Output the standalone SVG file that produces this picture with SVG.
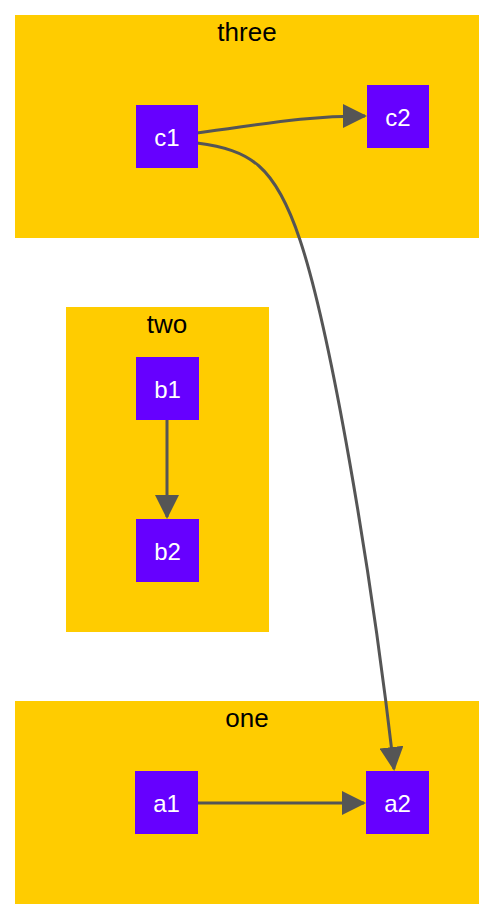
<svg xmlns="http://www.w3.org/2000/svg" width="494" height="920" viewBox="0 0 494 920">
<style>
.cluster{fill:#ffcc00;}
.node rect{fill:#6600ff;}
.node text{fill:#ffffff;font-family:"Liberation Sans",Arial,sans-serif;font-size:24px;text-anchor:middle;}
.clabel{fill:#000000;font-family:"Liberation Sans",Arial,sans-serif;font-size:26px;text-anchor:middle;}
.edge{fill:none;stroke:#555555;stroke-width:3;}
</style>
<defs>
<marker id="ah" viewBox="0 0 24 24" refX="22" refY="12" markerWidth="24" markerHeight="24" markerUnits="userSpaceOnUse" orient="auto">
<path d="M0,0 L24,12 L0,24 Z" fill="#555555"/>
</marker>
</defs>
<g id="cluster-three"><rect class="cluster" x="15" y="15" width="464" height="223"/><text class="clabel" x="247" y="41">three</text></g>
<g id="cluster-two"><rect class="cluster" x="66" y="307" width="203" height="325"/><text class="clabel" x="167" y="333">two</text></g>
<g id="cluster-one"><rect class="cluster" x="15" y="701" width="464" height="203"/><text class="clabel" x="247" y="727">one</text></g>
<g id="edges">
<path class="edge" d="M197,133 C260,125 300,116 365,116" marker-end="url(#ah)"/>
<path class="edge" d="M197,143 C250,150 275,165 300,240 C330,330 370,560 394,769" marker-end="url(#ah)"/>
<path class="edge" d="M167,420 L167,517" marker-end="url(#ah)"/>
<path class="edge" d="M198,803 L364,803" marker-end="url(#ah)"/>
</g>
<g id="c1" class="node"><rect x="136" y="105" width="62" height="63"/><text x="167" y="145.5">c1</text></g>
<g id="c2" class="node"><rect x="367" y="85" width="62" height="63"/><text x="398" y="125.5">c2</text></g>
<g id="b1" class="node"><rect x="136" y="357" width="63" height="63"/><text x="167.5" y="397.5">b1</text></g>
<g id="b2" class="node"><rect x="136" y="519" width="63" height="63"/><text x="167.5" y="559.5">b2</text></g>
<g id="a1" class="node"><rect x="135" y="771" width="63" height="63"/><text x="166.5" y="811.5">a1</text></g>
<g id="a2" class="node"><rect x="366" y="771" width="63" height="63"/><text x="397.5" y="811.5">a2</text></g>
</svg>
